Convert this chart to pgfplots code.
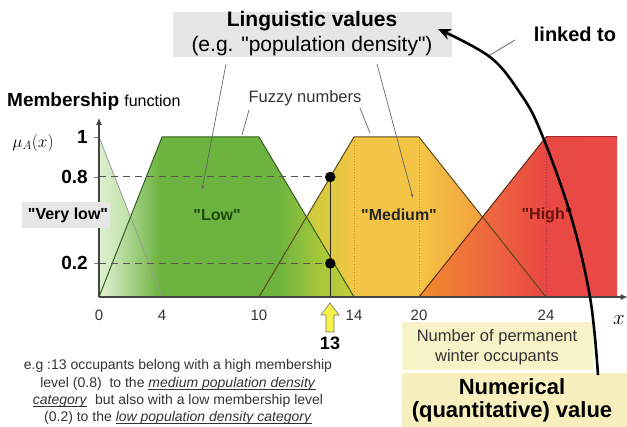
\documentclass[border=0pt]{standalone}
\usepackage{pgfplots}
\pgfplotsset{compat=1.18}
\usepackage{fontspec}
\setmainfont{Liberation Sans}[Ligatures=TeXOff]
\usetikzlibrary{arrows.meta}

\newcommand\fs[1]{\fontsize{#1}{#1}\selectfont}

\definecolor{axisgray}{HTML}{444444}
\definecolor{textgray}{HTML}{333333}
\definecolor{boxgray}{HTML}{E6E6E6}
\definecolor{boxyellow}{HTML}{F8F2C8}
\definecolor{boxyellow2}{HTML}{F7EFBE}
\definecolor{dashgray}{HTML}{555555}
\definecolor{vlowL}{HTML}{DDEFD0}
\definecolor{vlowR}{HTML}{9ED07A}
\definecolor{lowA}{HTML}{E4F2D8}
\definecolor{lowB}{HTML}{6CB33F}
\definecolor{lowC}{HTML}{A4C73A}
\definecolor{lowD}{HTML}{C8CC38}
\definecolor{medA}{HTML}{9CC43C}
\definecolor{medB}{HTML}{D2CB3C}
\definecolor{medC}{HTML}{F4C446}
\definecolor{medD}{HTML}{F2A03C}
\definecolor{medE}{HTML}{EE7A30}
\definecolor{hiA}{HTML}{F28C2C}
\definecolor{hiB}{HTML}{EE6A3E}
\definecolor{hiC}{HTML}{E94842}
\definecolor{hiD}{HTML}{EA4A47}
\definecolor{vlowline}{HTML}{9A9A9A}
\definecolor{lowline}{HTML}{2F6020}
\definecolor{medline}{HTML}{5C4A1E}
\definecolor{hiline}{HTML}{5A2A1A}
\definecolor{hitop}{HTML}{A02828}
\definecolor{meddot}{HTML}{C8902A}
\definecolor{hidot}{HTML}{A03A3A}
\definecolor{lowtext}{HTML}{1F4A10}
\definecolor{hightext}{HTML}{6A1010}
\definecolor{arrowyellow}{HTML}{F6F24A}

% path bounding box maps onto 25bp..75bp
\pgfdeclarehorizontalshading{vlowshade}{100bp}{color(0bp)=(vlowL); color(25bp)=(vlowL); color(75bp)=(vlowR); color(100bp)=(vlowR)}
\pgfdeclarehorizontalshading{lowshade}{100bp}{color(0bp)=(lowA); color(25bp)=(lowA); color(37bp)=(lowB); color(60bp)=(lowB); color(68bp)=(lowC); color(75bp)=(lowD); color(100bp)=(lowD)}
\pgfdeclarehorizontalshading{medshade}{100bp}{color(0bp)=(medA); color(25bp)=(medA); color(35bp)=(medB); color(41.5bp)=(medC); color(53bp)=(medC); color(64bp)=(medD); color(75bp)=(medE); color(100bp)=(medE)}
\pgfdeclarehorizontalshading{hishade}{100bp}{color(0bp)=(hiA); color(25bp)=(hiA); color(41bp)=(hiB); color(57bp)=(hiC); color(75bp)=(hiD); color(100bp)=(hiD)}

\begin{document}
\begin{tikzpicture}
\path[use as bounding box] (0pt,0pt) rectangle (627pt,427pt);

\begin{axis}[
  at={(99pt,130pt)}, anchor=south west,
  x=1pt, y=160pt,
  % the original x axis is drawn piecewise, not to scale
  x coord trafo/.code={\pgfmathparse{#1<=4 ? #1*15.75 : (#1<=10 ? 63+(#1-4)*97/6 : (#1<=14 ? 160+(#1-10)*23.75 : (#1<=20 ? 255+(#1-14)*65/6 : (#1<=24 ? 320+(#1-20)*31.75 : 447+(#1-24)*17.75))))}},
  xmin=0, xmax=28.6, ymin=0, ymax=1.12,
  axis lines=left, axis on top, clip=false,
  axis line style={draw=axisgray, line width=1.2pt, -{Latex[length=7pt,width=6pt]}},
  xtick={0,4,10,14,20,24}, xticklabels={0,4,10,14,20,24},
  ytick={0.21,0.75,1}, yticklabels={0.2,0.8,1},
  xtick style={draw=none},
  ytick style={draw=axisgray!70, line width=0.8pt},
  tick align=outside, major tick length=5pt,
  xticklabel style={font=\fs{15}, text=textgray, inner sep=0pt, yshift=-8pt},
  yticklabel style={font=\bfseries\fs{19}, inner sep=0pt, xshift=-6pt},
]
% fills
\addplot[draw=none, shade, shading=vlowshade] coordinates {(0,0) (0,1) (4,0)} \closedcycle;
\addplot[draw=none, shade, shading=medshade] coordinates {(10,0) (14,1) (20,1) (24,0)} \closedcycle;
\addplot[draw=none, shade, shading=hishade] coordinates {(20,0) (24,1) (28,1) (28,0)} \closedcycle;
\addplot[draw=none, shade, shading=lowshade] coordinates {(0,0) (4,1) (10,1) (14,0)} \closedcycle;
% dotted guides
\addplot[draw=meddot, dotted, line width=0.7pt] coordinates {(14,0) (14,1)};
\addplot[draw=meddot, dotted, line width=0.7pt] coordinates {(20,0) (20,1)};
\addplot[draw=hidot, dotted, line width=0.7pt] coordinates {(24,0) (24,1)};
% outlines
\addplot[draw=vlowline, line width=0.8pt] coordinates {(0,1) (4,0)};
\addplot[draw=lowline, line width=1pt] coordinates {(0,0) (4,1) (10,1) (14,0)};
\addplot[draw=medline, line width=1pt] coordinates {(10,0) (14,1) (20,1) (24,0)};
\addplot[draw=hiline, line width=1pt] coordinates {(20,0) (24,1)};
\addplot[draw=hitop, line width=1pt] coordinates {(24,1) (28,1)};
% reading at 13 occupants
\addplot[draw=dashgray, line width=1pt, dash pattern=on 7pt off 5pt] coordinates {(0,0.75) (13,0.75)};
\addplot[draw=dashgray, line width=1pt, dash pattern=on 7pt off 5pt] coordinates {(0,0.21) (13,0.21)};
\addplot[draw=black!85, line width=1.3pt] coordinates {(13,0) (13,0.75)};
\addplot[only marks, mark=*, mark size=5pt, black, mark options={fill=black}] coordinates {(13,0.75) (13,0.21)};
\end{axis}

% category labels
\fill[boxgray] (22pt,199pt) rectangle (110pt,225pt);
\node[font=\bfseries\fs{16}] at (68pt,212pt) {"Very low"};
\node[font=\bfseries\fs{16}, text=lowtext] at (217pt,212pt) {"Low"};
\node[font=\bfseries\fs{16}, text=black!85] at (399pt,212pt) {"Medium"};
\node[font=\bfseries\fs{16}, text=hightext] at (547pt,212pt) {"High"};

% axis titles
\node[anchor=base west, inner sep=0pt] at (7pt,320pt) {\bfseries\fs{19}Membership \mdseries\fs{16}function};
\node at (33pt,284pt) {\fs{17}$\mu_A(x)$};
\node at (619pt,107pt) {\fs{20}$x$};

% fuzzy numbers
\node[font=\fs{16.5}, text=textgray] at (305pt,329pt) {Fuzzy numbers};
\draw[black!60, line width=0.7pt] (249pt,317pt) -- (242pt,292pt);
\draw[black!60, line width=0.7pt] (360pt,319pt) -- (370pt,294pt);

% linguistic values
\fill[boxgray] (173pt,370pt) rectangle (452pt,415pt);
\node[font=\bfseries\fs{21}] at (312pt,406pt) {Linguistic values};
\node[font=\fs{21}] at (312pt,381pt) {(e.g. "population density")};
\draw[black!60, line width=0.7pt, -{Latex[length=4pt,width=3pt]}] (226pt,363pt) -- (202pt,237pt);
\draw[black!60, line width=0.7pt, -{Latex[length=4pt,width=3pt]}] (377pt,363pt) -- (413pt,229pt);

% linked to
\node[font=\bfseries\fs{20}] at (575pt,393pt) {linked to};
\draw[black!60, line width=0.8pt] (515pt,387pt) -- (490pt,372pt);

% value 13
\draw[fill=arrowyellow, draw=black!55, line width=0.6pt]
  (326pt,95pt) -- (334pt,95pt) -- (334pt,112pt) -- (339pt,112pt) -- (330pt,124pt)
  -- (321pt,112pt) -- (326pt,112pt) -- cycle;
\node[font=\bfseries\fs{18}] at (330pt,84pt) {13};

% example text
\begin{scope}[every node/.style={font=\fs{14}, text=textgray, anchor=base, inner sep=0pt}]
\node at (178pt,57pt) {e.g :13 occupants belong with a high membership};
\node at (178pt,39pt) {level (0.8) \ to the \underbar{\textit{medium population density}}};
\node at (178pt,22pt) {\underbar{\textit{category}} \ but also with a low membership level};
\node at (178pt,5pt) {(0.2) to the \underbar{\textit{low population density category}}};
\end{scope}

% numerical value boxes
\fill[boxyellow] (402pt,57pt) rectangle (593pt,105pt);
\node[font=\fs{16.5}, text=textgray] at (497pt,90pt) {Number of permanent};
\node[font=\fs{16.5}, text=textgray] at (497pt,70pt) {winter occupants};
\fill[boxyellow2] (402pt,0pt) rectangle (627pt,54pt);
\node[font=\bfseries\fs{22}] at (512pt,40pt) {Numerical};
\node[font=\bfseries\fs{22}] at (512pt,15pt) {(quantitative) value};

% linking arrow
\draw[line width=2.6pt, -{Stealth[length=13pt,width=11pt]}]
  plot[smooth, tension=0.6] coordinates {(598pt,52pt) (590pt,130pt) (570pt,214pt) (540pt,297pt) (520pt,334pt) (490pt,370pt) (438pt,398pt)};
\end{tikzpicture}
\end{document}
